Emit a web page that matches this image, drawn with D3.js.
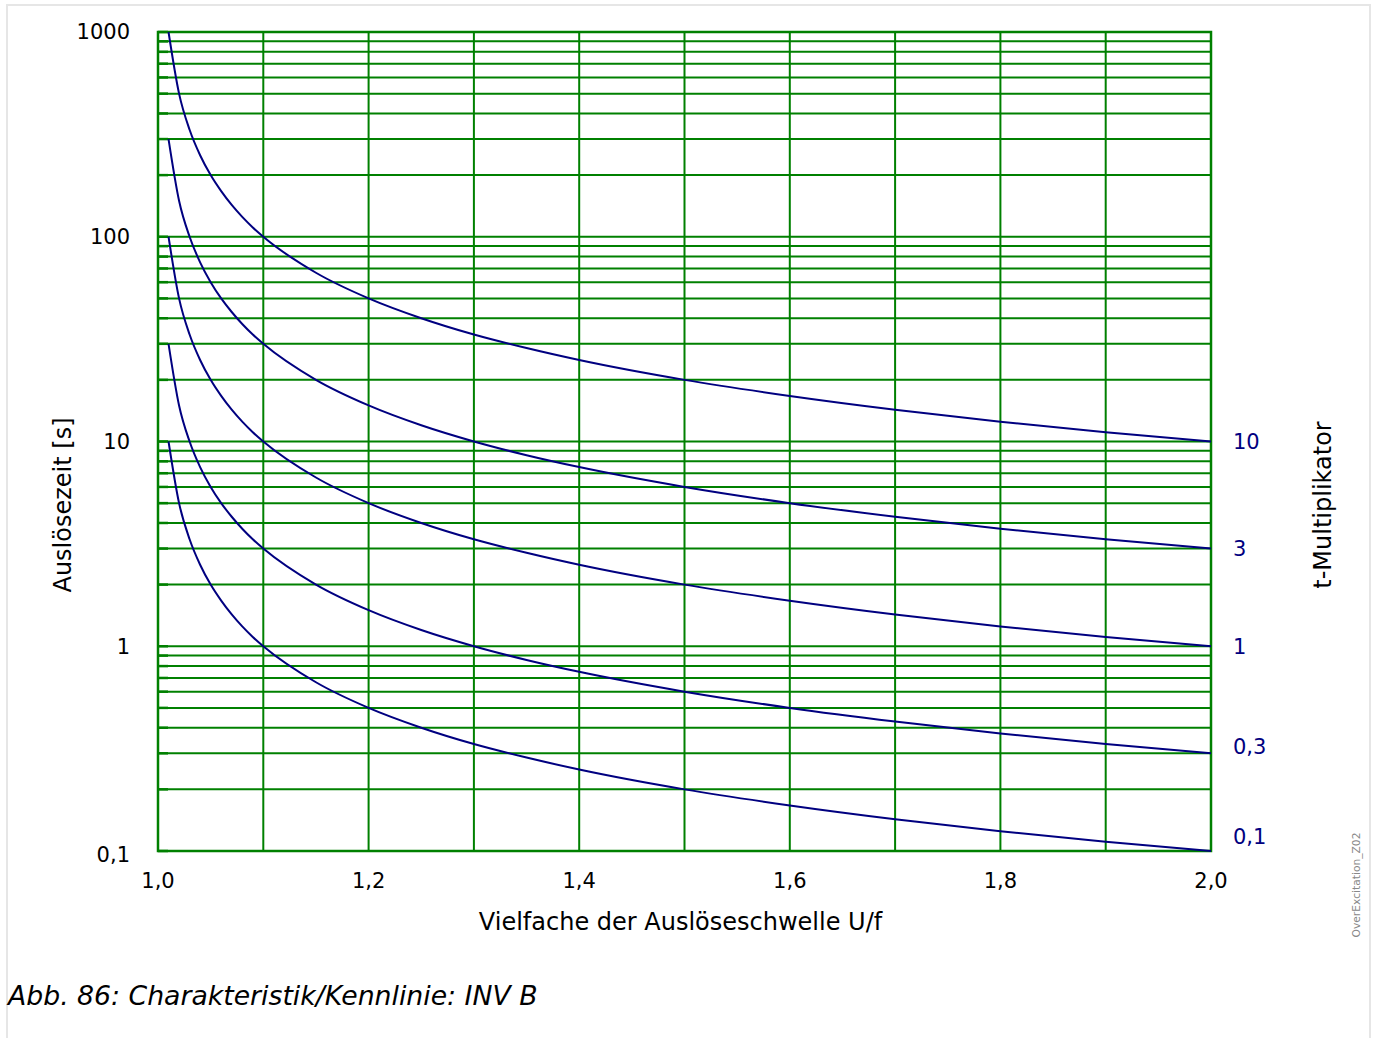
<!DOCTYPE html>
<html><head><meta charset="utf-8">
<script src="https://cdn.jsdelivr.net/npm/d3@7"></script>
<style>
html,body{margin:0;padding:0;background:#fff;}
svg{display:block;font-family:"DejaVu Sans",sans-serif;}
</style></head>
<body>
<svg id="chart" width="1375" height="1038"></svg>
<script>
// Multiples of the pickup value U/f
const multiples = [1.01,1.02,1.03,1.04,1.05,1.06,1.07,1.08,1.09,1.1,1.15,1.2,1.25,1.3,1.35,1.4,1.5,1.6,1.7,1.8,1.9,2.0];
// Trip times [s], per t-multiplier
const tm10  = [1000,500,333,250,200,167,143,125,111,100,66.7,50,40,33.3,28.6,25,20,16.7,14.3,12.5,11.1,10];
const tm3   = [300,150,100,75,60,50,42.9,37.5,33.3,30,20,15,12,10,8.57,7.5,6,5,4.29,3.75,3.33,3];
const tm1   = [100,50,33.3,25,20,16.7,14.3,12.5,11.1,10,6.67,5,4,3.33,2.86,2.5,2,1.67,1.43,1.25,1.11,1];
const tm03  = [30,15,10,7.5,6,5,4.29,3.75,3.33,3,2,1.5,1.2,1,0.857,0.75,0.6,0.5,0.429,0.375,0.333,0.3];
const tm01  = [10,5,3.33,2.5,2,1.67,1.43,1.25,1.11,1,0.667,0.5,0.4,0.333,0.286,0.25,0.2,0.167,0.143,0.125,0.111,0.1];
const seriesNames = ["10","3","1","0,3","0,1"];
const seriesValues = [tm10, tm3, tm1, tm03, tm01];
const xTicks = [1.0,1.1,1.2,1.3,1.4,1.5,1.6,1.7,1.8,1.9,2.0];
const xTickLabels = ["1,0","","1,2","","1,4","","1,6","","1,8","","2,0"];
const yTicks = [0.1,1,10,100,1000];
const yTickLabels = ["0,1","1","10","100","1000"];

const svg = d3.select("#chart");
const L=158, R=1211, T=32, B=851;
const x = d3.scaleLinear().domain([1.0,2.0]).range([L,R]);
const y = d3.scaleLog().domain([0.1,1000]).range([B,T]);
const green = "#008000", navy = "#000080", ink = "#000";

// outer light border
svg.append("rect").attr("x",7).attr("y",5).attr("width",1363).attr("height",1040)
  .attr("fill","none").attr("stroke","#e6e6e6").attr("stroke-width",2);

// horizontal grid (log minor lines)
const hLines = [];
[0.1,1,10,100].forEach(d=>{ for(let k=1;k<10;k++) hLines.push(d*k); });
hLines.push(1000);
const g = svg.append("g");
g.selectAll("line.h").data(hLines).enter().append("line")
  .attr("x1",L).attr("x2",R).attr("y1",d=>y(d)).attr("y2",d=>y(d))
  .attr("stroke",green).attr("stroke-width",2);
g.selectAll("line.hs").data(hLines).enter().append("line")
  .attr("x1",L).attr("x2",L+10).attr("y1",d=>y(d)).attr("y2",d=>y(d))
  .attr("stroke",green).attr("stroke-width",2.5);
g.selectAll("line.v").data(xTicks).enter().append("line")
  .attr("y1",T).attr("y2",B).attr("x1",d=>x(d)).attr("x2",d=>x(d))
  .attr("stroke",green).attr("stroke-width",2);
g.append("rect").attr("x",L).attr("y",T).attr("width",R-L).attr("height",B-T)
  .attr("fill","none").attr("stroke",green).attr("stroke-width",2.5);

// curves
const line = d3.line().x((d,i)=>x(multiples[i])).y(d=>y(d)).curve(d3.curveMonotoneX);
seriesValues.forEach(vals=>{
  svg.append("path").attr("d",line(vals)).attr("fill","none")
    .attr("stroke",navy).attr("stroke-width",2);
});

// right labels at curve ends
const labelDy = [0,0,0,-7,-14];
seriesValues.forEach((vals,i)=>{
  svg.append("text").attr("x",R+22).attr("y",y(vals[vals.length-1])+labelDy[i])
    .attr("dy","0.35em").attr("fill",navy).attr("font-size",21).text(seriesNames[i]);
});

// y tick labels
yTicks.forEach((v,i)=>{
  svg.append("text").attr("x",130).attr("y",y(v)+(i===0?4:0)).attr("dy","0.35em")
    .attr("text-anchor","end").attr("font-size",21).attr("fill",ink).text(yTickLabels[i]);
});
// x tick labels
xTicks.forEach((v,i)=>{
  if(!xTickLabels[i]) return;
  svg.append("text").attr("x",x(v)).attr("y",881).attr("dy","0.35em")
    .attr("text-anchor","middle").attr("font-size",21).attr("fill",ink).text(xTickLabels[i]);
});

// axis titles
svg.append("text").attr("x",(L+R)/2-4).attr("y",922).attr("dy","0.35em")
  .attr("text-anchor","middle").attr("font-size",24).attr("fill",ink)
  .text("Vielfache der Auslöseschwelle U/f");
svg.append("text").attr("transform","translate(63,505) rotate(-90)").attr("dy","0.35em")
  .attr("text-anchor","middle").attr("font-size",24).attr("fill",ink).text("Auslösezeit [s]");
svg.append("text").attr("transform","translate(1323,505) rotate(-90)").attr("dy","0.35em")
  .attr("text-anchor","middle").attr("font-size",24).attr("fill",ink).text("t-Multiplikator");
svg.append("text").attr("transform","translate(1356,885) rotate(-90)").attr("dy","0.35em")
  .attr("text-anchor","middle").attr("font-size",10.7).attr("fill","#888").text("OverExcitation_Z02");

// caption
svg.append("text").attr("x",8).attr("y",996).attr("dy","0.35em")
  .attr("font-size",26.7).attr("font-style","italic").attr("fill",ink)
  .text("Abb. 86: Charakteristik/Kennlinie: INV B");
</script>
</body></html>
